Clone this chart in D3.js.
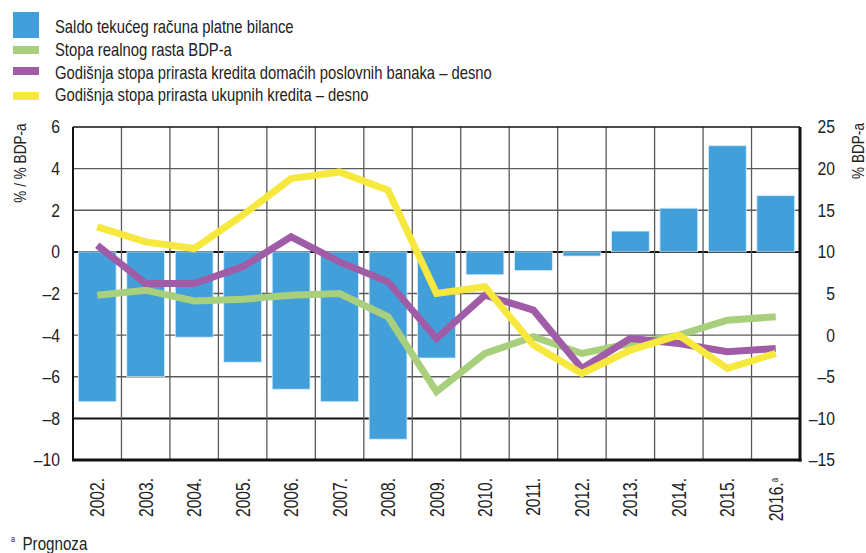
<!DOCTYPE html>
<html>
<head>
<meta charset="utf-8">
<script src="https://cdn.jsdelivr.net/npm/d3@7"></script>
<style>
body { margin: 0; background: #fff; }
svg text { font-family: "Liberation Sans", Arial, sans-serif; fill: #222; }
</style>
</head>
<body>
<svg id="chart" width="866" height="553"></svg>
<script>
// godine
var years = ["2002.", "2003.", "2004.", "2005.", "2006.", "2007.", "2008.", "2009.",
  "2010.", "2011.", "2012.", "2013.", "2014.", "2015.", "2016."];

// saldo tekuceg racuna, % BDP-a (lijevo)
var saldo = [-7.2, -6.0, -4.1, -5.3, -6.6, -7.2, -9.0, -5.1, -1.1, -0.9, -0.2, 1.0, 2.1, 5.1, 2.7];
// stopa realnog rasta BDP-a
var bdp = [4.8, 5.4, 4.1, 4.3, 4.8, 5.0, 2.2, -6.8, -2.2, -0.2, -2.2, -1.0, 0.0, 1.8, 2.2];
// kredit domacih poslovnih banaka (desno)
var kreditBanke = [10.8, 6.2, 6.2, 8.2, 11.8, 8.8, 6.4, -0.4, 4.8, 3.0, -4.0, -0.4, -1.0, -2.0, -1.6];
// ukupni krediti (desno)
var kreditUkupno = [13.0, 11.2, 10.4, 14.4, 18.8, 19.6, 17.4, 5.0, 5.8, -1.2, -4.6, -1.8, 0.0, -4.0, -2.2];

var leftTicks = [6, 4, 2, 0, -2, -4, -6, -8, -10];
var rightTicks = [25, 20, 15, 10, 5, 0, -5, -10, -15];

var legendItems = [
  "Saldo tekućeg računa platne bilance",
  "Stopa realnog rasta BDP-a",
  "Godišnja stopa prirasta kredita domaćih poslovnih banaka – desno",
  "Godišnja stopa prirasta ukupnih kredita – desno"
];
var colors = ["#439fd9", "#a8d07c", "#a05ca6", "#f6e83c"];

var svg = d3.select("#chart");
var pL = 73, pR = 800, pT = 127, pB = 460;

var x = d3.scaleBand().domain(years).range([pL, pR]).paddingInner(0.22).paddingOuter(0.11);
var xb = d3.scaleBand().domain(years).range([pL, pR]);
var yL = d3.scaleLinear().domain([-10, 6]).range([pB, pT]);
var yR = d3.scaleLinear().domain([-15, 25]).range([pB, pT]);

function fmt(v) { return v < 0 ? "–" + Math.abs(v) : String(v); }

// uski font: sabij tekst vodoravno
function narrow(sel, s) {
  sel.each(function () {
    var t = d3.select(this);
    var tx = +t.attr("x") || 0, ty = +t.attr("y") || 0;
    t.attr("x", 0).attr("y", 0)
      .attr("transform", "translate(" + tx + "," + ty + ") scale(" + s + ",1)");
  });
}

// mreza
var grid = svg.append("g");
grid.selectAll(".h")
  .data(leftTicks.filter(function (d) { return d > -10 && d < 6; }))
  .enter().append("line")
  .attr("x1", pL).attr("x2", pR)
  .attr("y1", function (d) { return yL(d); })
  .attr("y2", function (d) { return yL(d); })
  .attr("stroke", function (d) { return (d === 0 || d === -8) ? "#111" : "#5a5a5a"; })
  .attr("stroke-width", function (d) { return (d === 0 || d === -8) ? 2 : 1.3; });
grid.selectAll(".v")
  .data(years.slice(1))
  .enter().append("line")
  .attr("x1", function (d) { return xb(d); })
  .attr("x2", function (d) { return xb(d); })
  .attr("y1", pT).attr("y2", pB)
  .attr("stroke", "#5a5a5a").attr("stroke-width", 1.3);

// stupci
svg.append("g").selectAll("rect")
  .data(saldo)
  .enter().append("rect")
  .attr("x", function (d, i) { return x(years[i]); })
  .attr("width", x.bandwidth())
  .attr("y", function (d) { return yL(Math.max(0, d)); })
  .attr("height", function (d) { return Math.abs(yL(d) - yL(0)); })
  .attr("fill", colors[0])
  .attr("stroke", "#d8ecf8")
  .attr("stroke-width", 0.8);

// linije
var cx = function (i) { return xb(years[i]) + xb.bandwidth() / 2; };
var series = [
  { data: bdp, color: colors[1] },
  { data: kreditBanke, color: colors[2] },
  { data: kreditUkupno, color: colors[3] }
];
series.forEach(function (s) {
  var line = d3.line()
    .x(function (d, i) { return cx(i); })
    .y(function (d) { return yR(d); });
  svg.append("path")
    .datum(s.data)
    .attr("d", line)
    .attr("fill", "none")
    .attr("stroke", s.color)
    .attr("stroke-width", 7)
    .attr("stroke-linejoin", "miter");
});

// okvir
svg.append("line").attr("x1", pL).attr("x2", pR).attr("y1", pT).attr("y2", pT)
  .attr("stroke", "#111").attr("stroke-width", 1.5);
svg.append("line").attr("x1", pL).attr("x2", pL).attr("y1", pT).attr("y2", pB)
  .attr("stroke", "#111").attr("stroke-width", 2);
svg.append("line").attr("x1", pR).attr("x2", pR).attr("y1", pT).attr("y2", pB + 1.5)
  .attr("stroke", "#111").attr("stroke-width", 3);
svg.append("line").attr("x1", pL - 1).attr("x2", pR + 1.5).attr("y1", pB).attr("y2", pB)
  .attr("stroke", "#111").attr("stroke-width", 3);

// osi
var axL = svg.append("g")
  .attr("transform", "translate(" + pL + ",0)")
  .call(d3.axisLeft(yL).tickValues(leftTicks).tickFormat(fmt).tickSize(0).tickPadding(13));
var axR = svg.append("g")
  .attr("transform", "translate(" + pR + ",0)")
  .call(d3.axisRight(yR).tickValues(rightTicks).tickFormat(fmt).tickSize(0));
[axL, axR].forEach(function (a) {
  a.select(".domain").remove();
  a.selectAll("text").attr("font-size", 18.5).attr("fill", "#222")
    .style("font-family", "'Liberation Sans', Arial, sans-serif");
});
axR.selectAll("text").attr("text-anchor", "end").attr("x", 35);
narrow(axL.selectAll("text"), 0.85);
narrow(axR.selectAll("text"), 0.85);

var axX = svg.append("g")
  .attr("transform", "translate(0," + pB + ")")
  .call(d3.axisBottom(xb).tickSize(0).tickPadding(0));
axX.select(".domain").remove();
axX.selectAll("text")
  .attr("font-size", 20).attr("fill", "#222")
  .style("font-family", "'Liberation Sans', Arial, sans-serif")
  .attr("text-anchor", "end")
  .attr("dy", "0.35em")
  .attr("transform", "translate(0,18) rotate(-90) scale(0.78,1)")
  .attr("x", 0).attr("y", 0);
axX.selectAll(".tick").filter(function (d) { return d === "2016."; })
  .select("text").append("tspan")
  .attr("dy", "-0.5em").attr("font-size", 10).text("a");

// naslovi osi
svg.append("text")
  .attr("transform", "translate(26,163) rotate(-90) scale(0.85,1)")
  .attr("text-anchor", "middle").attr("font-size", 16).attr("fill", "#333")
  .text("% / % BDP-a");
svg.append("text")
  .attr("transform", "translate(864,151) rotate(-90) scale(0.85,1)")
  .attr("text-anchor", "middle").attr("font-size", 16).attr("fill", "#333")
  .text("% BDP-a");

// legenda
var leg = svg.append("g");
legendItems.forEach(function (t, i) {
  var cy = [25, 50, 71, 96][i];
  leg.append("rect")
    .attr("x", 13).attr("width", 26)
    .attr("y", i === 0 ? 12 : cy - 4)
    .attr("height", i === 0 ? 26 : 8)
    .attr("fill", colors[i]);
  leg.append("text")
    .attr("x", 55).attr("y", [33, 56, 79, 101][i])
    .attr("font-size", 18.5).attr("fill", "#222")
    .text(t);
});
narrow(leg.selectAll("text"), 0.8);

// fusnota
var fn = svg.append("g").attr("transform", "translate(11,550) scale(0.82,1)");
fn.append("text").attr("x", 0).attr("y", -8).attr("font-size", 9).text("a");
fn.append("text").attr("x", 14).attr("y", 0).attr("font-size", 18.5).text("Prognoza");
</script>
</body>
</html>
